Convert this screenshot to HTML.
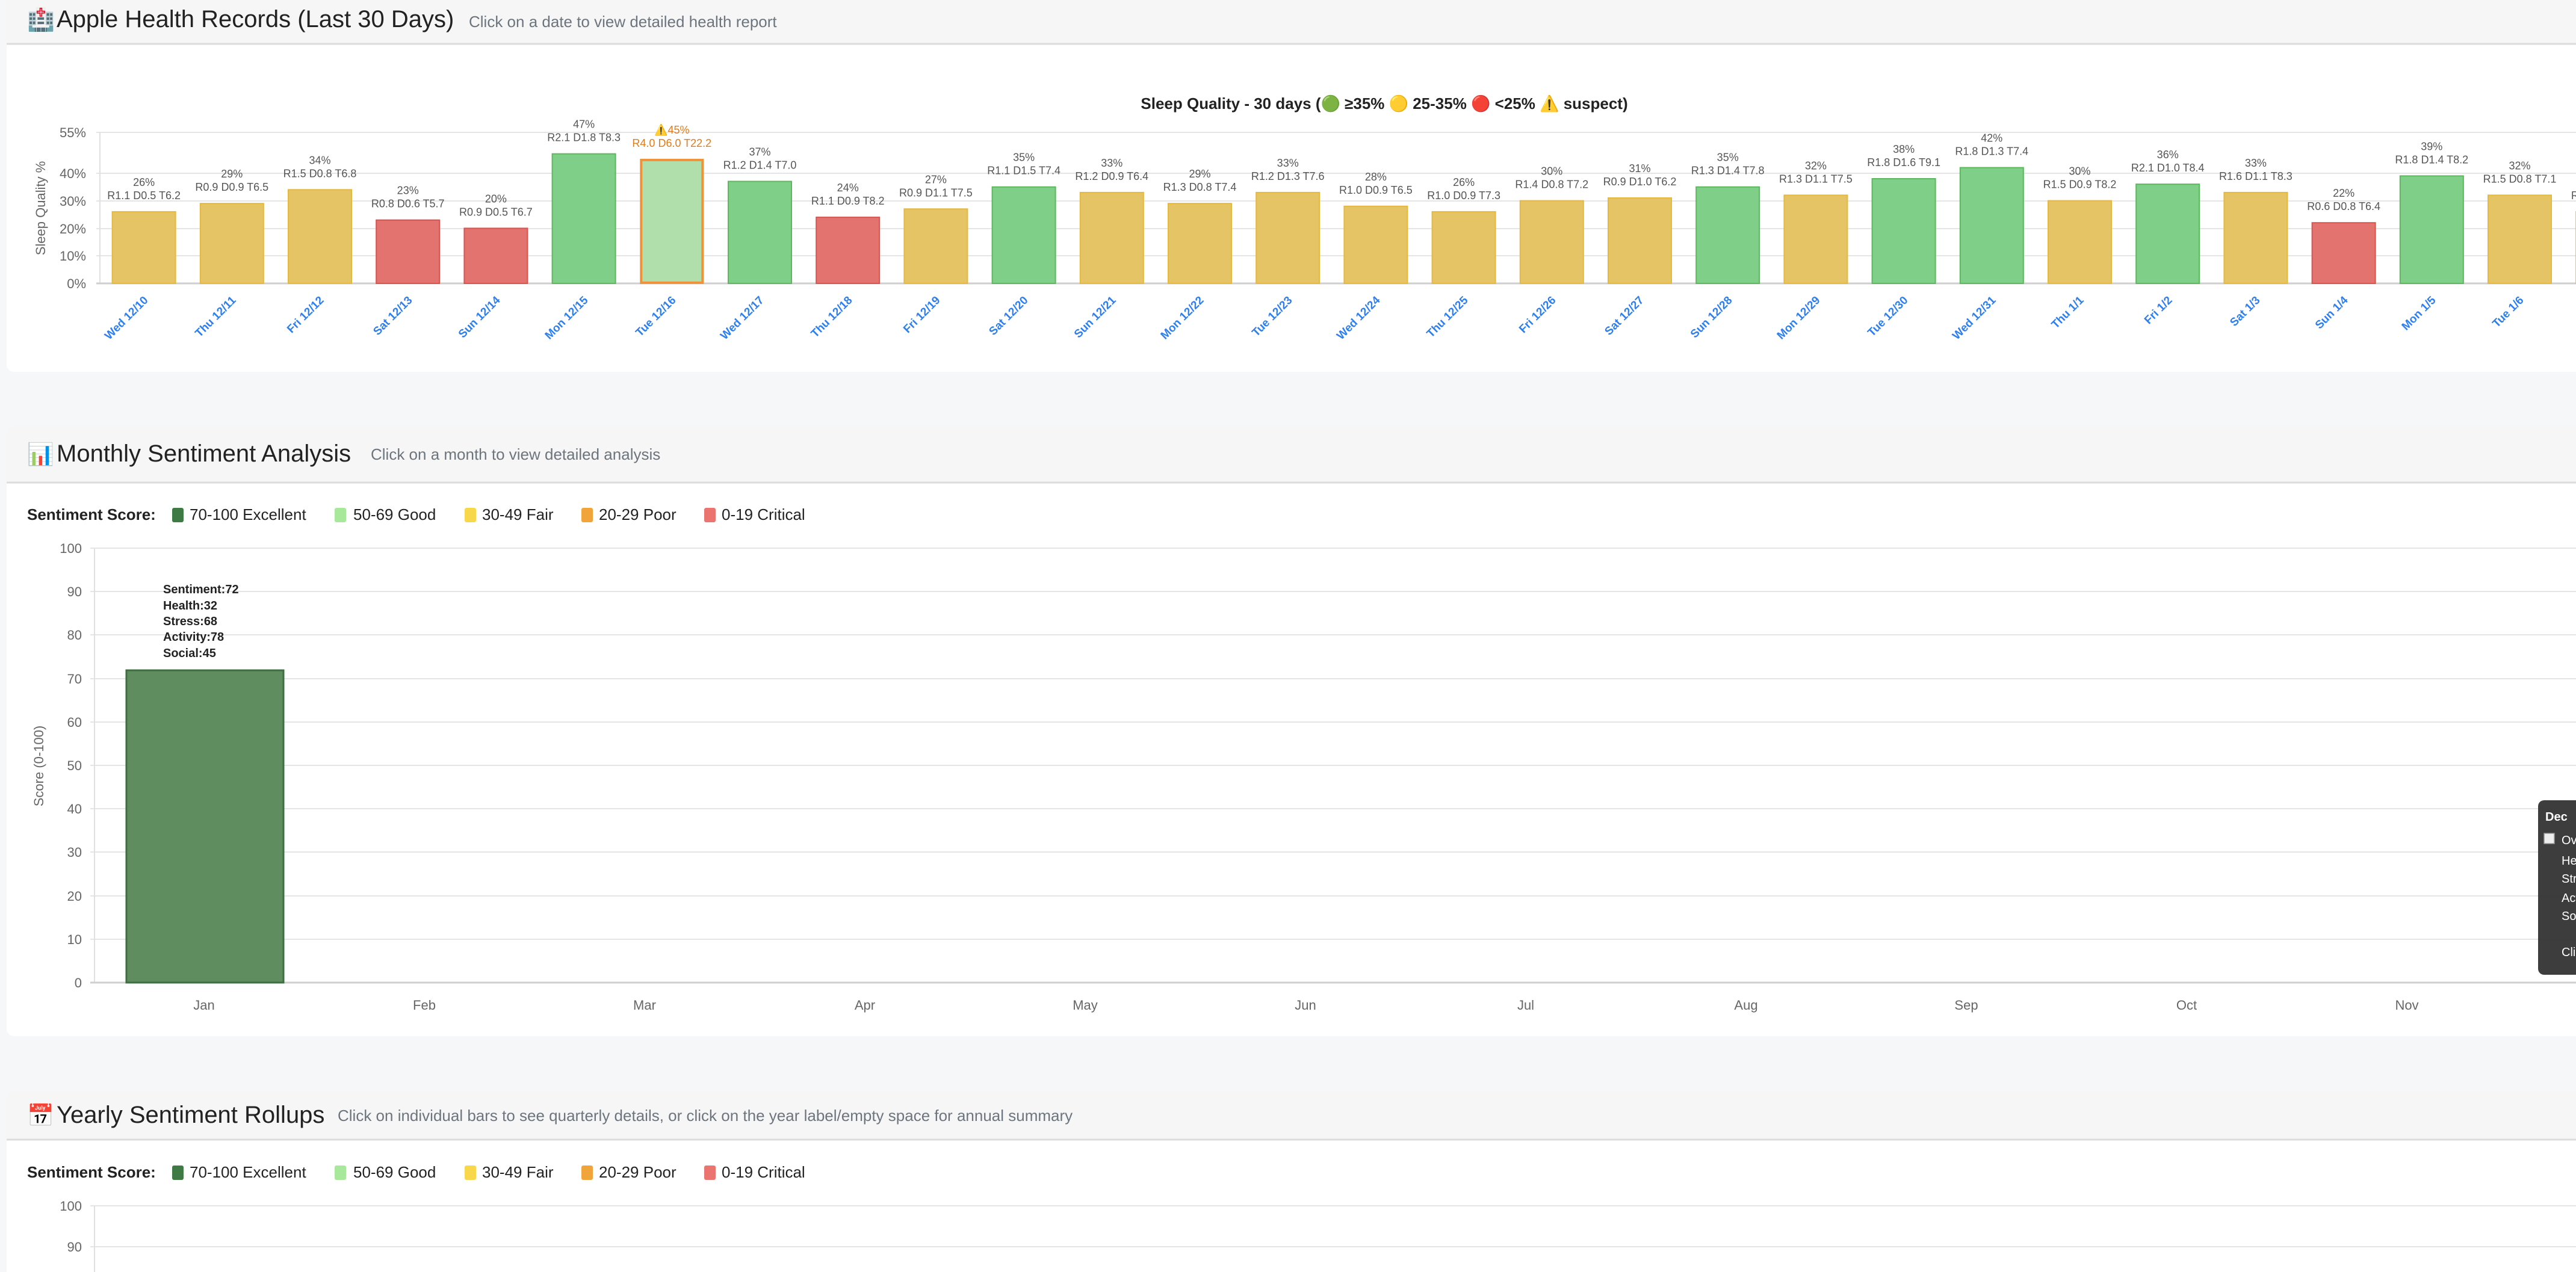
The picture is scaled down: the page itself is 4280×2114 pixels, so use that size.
<!DOCTYPE html>
<html><head><meta charset="utf-8"><style>
html,body{margin:0;padding:0;background:#f6f7f8;width:4280px;height:2114px;overflow:hidden;font-family:"Liberation Sans",sans-serif}
svg{display:block}
text{font-family:"Liberation Sans","Noto Sans CJK JP",sans-serif}
.Y{fill:#e5c466;stroke:#e6b83c;stroke-width:2}
.R{fill:#e3736f;stroke:#d9534f;stroke-width:2}
.G{fill:#80cf89;stroke:#5cb85c;stroke-width:2}
.v{font-size:18px;fill:#555;text-anchor:middle}
.xl{font-size:19px;font-weight:bold;fill:#2d7ff0;text-anchor:end}
.tk{font-size:22px;fill:#666;text-anchor:end}
.gl{stroke:#e5e5e5;stroke-width:2}
.lg{font-size:26px;fill:#222}
.ml{font-size:22px;fill:#666;text-anchor:middle}
.an{font-size:20px;font-weight:bold;fill:#222}
.tt{font-size:20px;fill:#fff}
</style></head><body>
<svg width="4280" height="2114" viewBox="0 0 4280 2114" xmlns="http://www.w3.org/2000/svg">
<!-- card 1 -->
<rect x="11" y="-20" width="4300" height="638" rx="12" fill="#fff"/>
<path d="M11 -20 H4311 V73 H11 Z" fill="#f6f6f6"/>
<line x1="11" y1="73" x2="4280" y2="73" stroke="#dcdcdc" stroke-width="3"/>
<text x="45" y="45" font-size="37" fill="#888">🏥</text>
<text x="94" y="45" font-size="40" fill="#222">Apple Health Records (Last 30 Days)</text>
<text x="779" y="45" font-size="26" fill="#6c757d">Click on a date to view detailed health report</text>
<text x="2300" y="181" font-size="26" font-weight="bold" fill="#222" text-anchor="middle">Sleep Quality - 30 days (🟢 ≥35% 🟡 25-35% 🔴 &lt;25% ⚠️ suspect)</text>
<!-- grid -->
<g class="gl">
<line x1="160" y1="220" x2="4280" y2="220"/><line x1="160" y1="288" x2="4280" y2="288"/><line x1="160" y1="334" x2="4280" y2="334"/><line x1="160" y1="380" x2="4280" y2="380"/><line x1="160" y1="425" x2="4280" y2="425"/>
</g>
<line x1="166" y1="220" x2="166" y2="471" stroke="#e0e0e0" stroke-width="2"/>
<line x1="160" y1="471" x2="4280" y2="471" stroke="#cfcfcf" stroke-width="3"/>
<g class="tk"><text x="143" y="228">55%</text><text x="143" y="296">40%</text><text x="143" y="342">30%</text><text x="143" y="388">20%</text><text x="143" y="433">10%</text><text x="143" y="479">0%</text></g>
<text transform="translate(75,346) rotate(-90)" font-size="22" fill="#666" text-anchor="middle">Sleep Quality %</text>
<!-- bars -->
<g transform="translate(239.1,351.9)"><rect class="Y" x="-52.5" width="105" height="119.1"/><text class="v" y="-43">26%</text><text class="v" y="-21">R1.1 D0.5 T6.2</text></g>
<g transform="translate(385.3,338.2)"><rect class="Y" x="-52.5" width="105" height="132.8"/><text class="v" y="-43">29%</text><text class="v" y="-21">R0.9 D0.9 T6.5</text></g>
<g transform="translate(531.5,315.3)"><rect class="Y" x="-52.5" width="105" height="155.7"/><text class="v" y="-43">34%</text><text class="v" y="-21">R1.5 D0.8 T6.8</text></g>
<g transform="translate(677.7,365.7)"><rect class="R" x="-52.5" width="105" height="105.3"/><text class="v" y="-43">23%</text><text class="v" y="-21">R0.8 D0.6 T5.7</text></g>
<g transform="translate(823.9,379.4)"><rect class="R" x="-52.5" width="105" height="91.6"/><text class="v" y="-43">20%</text><text class="v" y="-21">R0.9 D0.5 T6.7</text></g>
<g transform="translate(970.1,255.7)"><rect class="G" x="-52.5" width="105" height="215.3"/><text class="v" y="-43">47%</text><text class="v" y="-21">R2.1 D1.8 T8.3</text></g>
<g transform="translate(1116.3,264.9)"><rect x="-51" y="1" width="102" height="204" fill="#b0dfac" stroke="#f0923a" stroke-width="4"/><text class="v" y="-43" style="fill:#e07b1a">⚠️45%</text><text class="v" y="-21" style="fill:#e07b1a">R4.0 D6.0 T22.2</text></g>
<g transform="translate(1262.5,301.5)"><rect class="G" x="-52.5" width="105" height="169.5"/><text class="v" y="-43">37%</text><text class="v" y="-21">R1.2 D1.4 T7.0</text></g>
<g transform="translate(1408.7,361.1)"><rect class="R" x="-52.5" width="105" height="109.9"/><text class="v" y="-43">24%</text><text class="v" y="-21">R1.1 D0.9 T8.2</text></g>
<g transform="translate(1554.9,347.3)"><rect class="Y" x="-52.5" width="105" height="123.7"/><text class="v" y="-43">27%</text><text class="v" y="-21">R0.9 D1.1 T7.5</text></g>
<g transform="translate(1701.1,310.7)"><rect class="G" x="-52.5" width="105" height="160.3"/><text class="v" y="-43">35%</text><text class="v" y="-21">R1.1 D1.5 T7.4</text></g>
<g transform="translate(1847.3,319.9)"><rect class="Y" x="-52.5" width="105" height="151.1"/><text class="v" y="-43">33%</text><text class="v" y="-21">R1.2 D0.9 T6.4</text></g>
<g transform="translate(1993.5,338.2)"><rect class="Y" x="-52.5" width="105" height="132.8"/><text class="v" y="-43">29%</text><text class="v" y="-21">R1.3 D0.8 T7.4</text></g>
<g transform="translate(2139.7,319.9)"><rect class="Y" x="-52.5" width="105" height="151.1"/><text class="v" y="-43">33%</text><text class="v" y="-21">R1.2 D1.3 T7.6</text></g>
<g transform="translate(2285.9,342.8)"><rect class="Y" x="-52.5" width="105" height="128.2"/><text class="v" y="-43">28%</text><text class="v" y="-21">R1.0 D0.9 T6.5</text></g>
<g transform="translate(2432.1,351.9)"><rect class="Y" x="-52.5" width="105" height="119.1"/><text class="v" y="-43">26%</text><text class="v" y="-21">R1.0 D0.9 T7.3</text></g>
<g transform="translate(2578.3,333.6)"><rect class="Y" x="-52.5" width="105" height="137.4"/><text class="v" y="-43">30%</text><text class="v" y="-21">R1.4 D0.8 T7.2</text></g>
<g transform="translate(2724.5,329)"><rect class="Y" x="-52.5" width="105" height="142"/><text class="v" y="-43">31%</text><text class="v" y="-21">R0.9 D1.0 T6.2</text></g>
<g transform="translate(2870.7,310.7)"><rect class="G" x="-52.5" width="105" height="160.3"/><text class="v" y="-43">35%</text><text class="v" y="-21">R1.3 D1.4 T7.8</text></g>
<g transform="translate(3016.9,324.4)"><rect class="Y" x="-52.5" width="105" height="146.6"/><text class="v" y="-43">32%</text><text class="v" y="-21">R1.3 D1.1 T7.5</text></g>
<g transform="translate(3163.1,297)"><rect class="G" x="-52.5" width="105" height="174"/><text class="v" y="-43">38%</text><text class="v" y="-21">R1.8 D1.6 T9.1</text></g>
<g transform="translate(3309.3,278.6)"><rect class="G" x="-52.5" width="105" height="192.4"/><text class="v" y="-43">42%</text><text class="v" y="-21">R1.8 D1.3 T7.4</text></g>
<g transform="translate(3455.5,333.6)"><rect class="Y" x="-52.5" width="105" height="137.4"/><text class="v" y="-43">30%</text><text class="v" y="-21">R1.5 D0.9 T8.2</text></g>
<g transform="translate(3601.7,306.1)"><rect class="G" x="-52.5" width="105" height="164.9"/><text class="v" y="-43">36%</text><text class="v" y="-21">R2.1 D1.0 T8.4</text></g>
<g transform="translate(3747.9,319.9)"><rect class="Y" x="-52.5" width="105" height="151.1"/><text class="v" y="-43">33%</text><text class="v" y="-21">R1.6 D1.1 T8.3</text></g>
<g transform="translate(3894.1,370.2)"><rect class="R" x="-52.5" width="105" height="100.8"/><text class="v" y="-43">22%</text><text class="v" y="-21">R0.6 D0.8 T6.4</text></g>
<g transform="translate(4040.3,292.4)"><rect class="G" x="-52.5" width="105" height="178.6"/><text class="v" y="-43">39%</text><text class="v" y="-21">R1.8 D1.4 T8.2</text></g>
<g transform="translate(4186.5,324.4)"><rect class="Y" x="-52.5" width="105" height="146.6"/><text class="v" y="-43">32%</text><text class="v" y="-21">R1.5 D0.8 T7.1</text></g>
<g transform="translate(4332.7,351.9)"><rect class="Y" x="-52.5" width="105" height="119.1"/><text class="v" y="-43">26%</text><text class="v" y="-21">R1.4 D1.0 T7.9</text></g>
<!-- x labels -->
<g class="xl">
<text transform="translate(247,500) rotate(-45)">Wed 12/10</text>
<text transform="translate(393,500) rotate(-45)">Thu 12/11</text>
<text transform="translate(539,500) rotate(-45)">Fri 12/12</text>
<text transform="translate(686,500) rotate(-45)">Sat 12/13</text>
<text transform="translate(832,500) rotate(-45)">Sun 12/14</text>
<text transform="translate(978,500) rotate(-45)">Mon 12/15</text>
<text transform="translate(1124,500) rotate(-45)">Tue 12/16</text>
<text transform="translate(1270,500) rotate(-45)">Wed 12/17</text>
<text transform="translate(1417,500) rotate(-45)">Thu 12/18</text>
<text transform="translate(1563,500) rotate(-45)">Fri 12/19</text>
<text transform="translate(1709,500) rotate(-45)">Sat 12/20</text>
<text transform="translate(1855,500) rotate(-45)">Sun 12/21</text>
<text transform="translate(2001,500) rotate(-45)">Mon 12/22</text>
<text transform="translate(2148,500) rotate(-45)">Tue 12/23</text>
<text transform="translate(2294,500) rotate(-45)">Wed 12/24</text>
<text transform="translate(2440,500) rotate(-45)">Thu 12/25</text>
<text transform="translate(2586,500) rotate(-45)">Fri 12/26</text>
<text transform="translate(2732,500) rotate(-45)">Sat 12/27</text>
<text transform="translate(2879,500) rotate(-45)">Sun 12/28</text>
<text transform="translate(3025,500) rotate(-45)">Mon 12/29</text>
<text transform="translate(3171,500) rotate(-45)">Tue 12/30</text>
<text transform="translate(3317,500) rotate(-45)">Wed 12/31</text>
<text transform="translate(3463,500) rotate(-45)">Thu 1/1</text>
<text transform="translate(3610,500) rotate(-45)">Fri 1/2</text>
<text transform="translate(3756,500) rotate(-45)">Sat 1/3</text>
<text transform="translate(3902,500) rotate(-45)">Sun 1/4</text>
<text transform="translate(4048,500) rotate(-45)">Mon 1/5</text>
<text transform="translate(4194,500) rotate(-45)">Tue 1/6</text>
<text transform="translate(4341,500) rotate(-45)">Wed 1/7</text>
</g>

<!-- card 2 -->
<rect x="11" y="707" width="4300" height="1015" rx="12" fill="#fff"/>
<path d="M23 707 H4311 V802 H11 V719 A12 12 0 0 1 23 707 Z" fill="#f6f6f6"/>
<line x1="11" y1="802" x2="4280" y2="802" stroke="#dcdcdc" stroke-width="3"/>
<text x="45" y="767" font-size="36">📊</text>
<text x="94" y="767" font-size="40" fill="#222">Monthly Sentiment Analysis</text>
<text x="616" y="764" font-size="26" fill="#6c757d">Click on a month to view detailed analysis</text>
<text x="45" y="864" class="lg" font-weight="bold">Sentiment Score:</text>
<rect x="286" y="844" width="19" height="24" rx="3" fill="#3f7a45"/><text x="315" y="864" class="lg">70-100 Excellent</text>
<rect x="556" y="844" width="19" height="24" rx="3" fill="#a8e89a"/><text x="587" y="864" class="lg">50-69 Good</text>
<rect x="772" y="844" width="19" height="24" rx="3" fill="#f8d84a"/><text x="801" y="864" class="lg">30-49 Fair</text>
<rect x="966" y="844" width="19" height="24" rx="3" fill="#f0a43a"/><text x="995" y="864" class="lg">20-29 Poor</text>
<rect x="1170" y="844" width="19" height="24" rx="3" fill="#ec7470"/><text x="1199" y="864" class="lg">0-19 Critical</text>
<g class="gl">
<line x1="150" y1="911" x2="4280" y2="911"/><line x1="150" y1="983" x2="4280" y2="983"/><line x1="150" y1="1055" x2="4280" y2="1055"/><line x1="150" y1="1128" x2="4280" y2="1128"/><line x1="150" y1="1200" x2="4280" y2="1200"/><line x1="150" y1="1272" x2="4280" y2="1272"/><line x1="150" y1="1344" x2="4280" y2="1344"/><line x1="150" y1="1416" x2="4280" y2="1416"/><line x1="150" y1="1489" x2="4280" y2="1489"/><line x1="150" y1="1561" x2="4280" y2="1561"/>
</g>
<line x1="157" y1="911" x2="157" y2="1633" stroke="#e0e0e0" stroke-width="2"/>
<line x1="150" y1="1633" x2="4280" y2="1633" stroke="#cfcfcf" stroke-width="3"/>
<g class="tk">
<text x="136" y="919">100</text><text x="136" y="991">90</text><text x="136" y="1063">80</text><text x="136" y="1136">70</text><text x="136" y="1208">60</text><text x="136" y="1280">50</text><text x="136" y="1352">40</text><text x="136" y="1424">30</text><text x="136" y="1497">20</text><text x="136" y="1569">10</text><text x="136" y="1641">0</text>
</g>
<text transform="translate(72,1273) rotate(-90)" font-size="22" fill="#666" text-anchor="middle">Score (0-100)</text>
<rect x="210" y="1114" width="261" height="519" fill="#5f8d5f" stroke="#3d7040" stroke-width="3"/>
<text x="271" y="986" class="an">Sentiment:72</text>
<text x="271" y="1013" class="an">Health:32</text>
<text x="271" y="1039" class="an">Stress:68</text>
<text x="271" y="1065" class="an">Activity:78</text>
<text x="271" y="1092" class="an">Social:45</text>
<g class="ml">
<text x="339" y="1678">Jan</text><text x="705" y="1678">Feb</text><text x="1071" y="1678">Mar</text><text x="1437" y="1678">Apr</text><text x="1803" y="1678">May</text><text x="2169" y="1678">Jun</text><text x="2535" y="1678">Jul</text><text x="2901" y="1678">Aug</text><text x="3267" y="1678">Sep</text><text x="3633" y="1678">Oct</text><text x="3999" y="1678">Nov</text>
</g>
<rect x="4217" y="1330" width="200" height="290" rx="10" fill="#333" opacity="0.95"/>
<text x="4229" y="1364" class="tt" font-weight="bold">Dec</text>
<rect x="4227" y="1385" width="17" height="17" fill="#eee" stroke="#999" stroke-width="1.5"/>
<text x="4256" y="1403" class="tt">Overall: 0</text>
<text x="4256" y="1437" class="tt">Health: 0</text>
<text x="4256" y="1467" class="tt">Stress: 0</text>
<text x="4256" y="1499" class="tt">Activity: 0</text>
<text x="4256" y="1529" class="tt">Social: 0</text>
<text x="4256" y="1589" class="tt">Click for details</text>

<!-- card 3 -->
<rect x="11" y="1812" width="4300" height="400" rx="12" fill="#fff"/>
<path d="M23 1812 H4311 V1894 H11 V1824 A12 12 0 0 1 23 1812 Z" fill="#f6f6f6"/>
<line x1="11" y1="1894" x2="4280" y2="1894" stroke="#dcdcdc" stroke-width="3"/>
<text x="45" y="1866" font-size="36">📅</text>
<text x="94" y="1866" font-size="40" fill="#222">Yearly Sentiment Rollups</text>
<text x="561" y="1863" font-size="26" fill="#6c757d">Click on individual bars to see quarterly details, or click on the year label/empty space for annual summary</text>
<text x="45" y="1957" class="lg" font-weight="bold">Sentiment Score:</text>
<rect x="286" y="1937" width="19" height="24" rx="3" fill="#3f7a45"/><text x="315" y="1957" class="lg">70-100 Excellent</text>
<rect x="556" y="1937" width="19" height="24" rx="3" fill="#a8e89a"/><text x="587" y="1957" class="lg">50-69 Good</text>
<rect x="772" y="1937" width="19" height="24" rx="3" fill="#f8d84a"/><text x="801" y="1957" class="lg">30-49 Fair</text>
<rect x="966" y="1937" width="19" height="24" rx="3" fill="#f0a43a"/><text x="995" y="1957" class="lg">20-29 Poor</text>
<rect x="1170" y="1937" width="19" height="24" rx="3" fill="#ec7470"/><text x="1199" y="1957" class="lg">0-19 Critical</text>
<g class="gl"><line x1="150" y1="2004" x2="4280" y2="2004"/><line x1="150" y1="2072" x2="4280" y2="2072"/></g>
<line x1="157" y1="2004" x2="157" y2="2114" stroke="#e0e0e0" stroke-width="2"/>
<g class="tk"><text x="136" y="2012">100</text><text x="136" y="2080">90</text></g>
</svg>
</body></html>
